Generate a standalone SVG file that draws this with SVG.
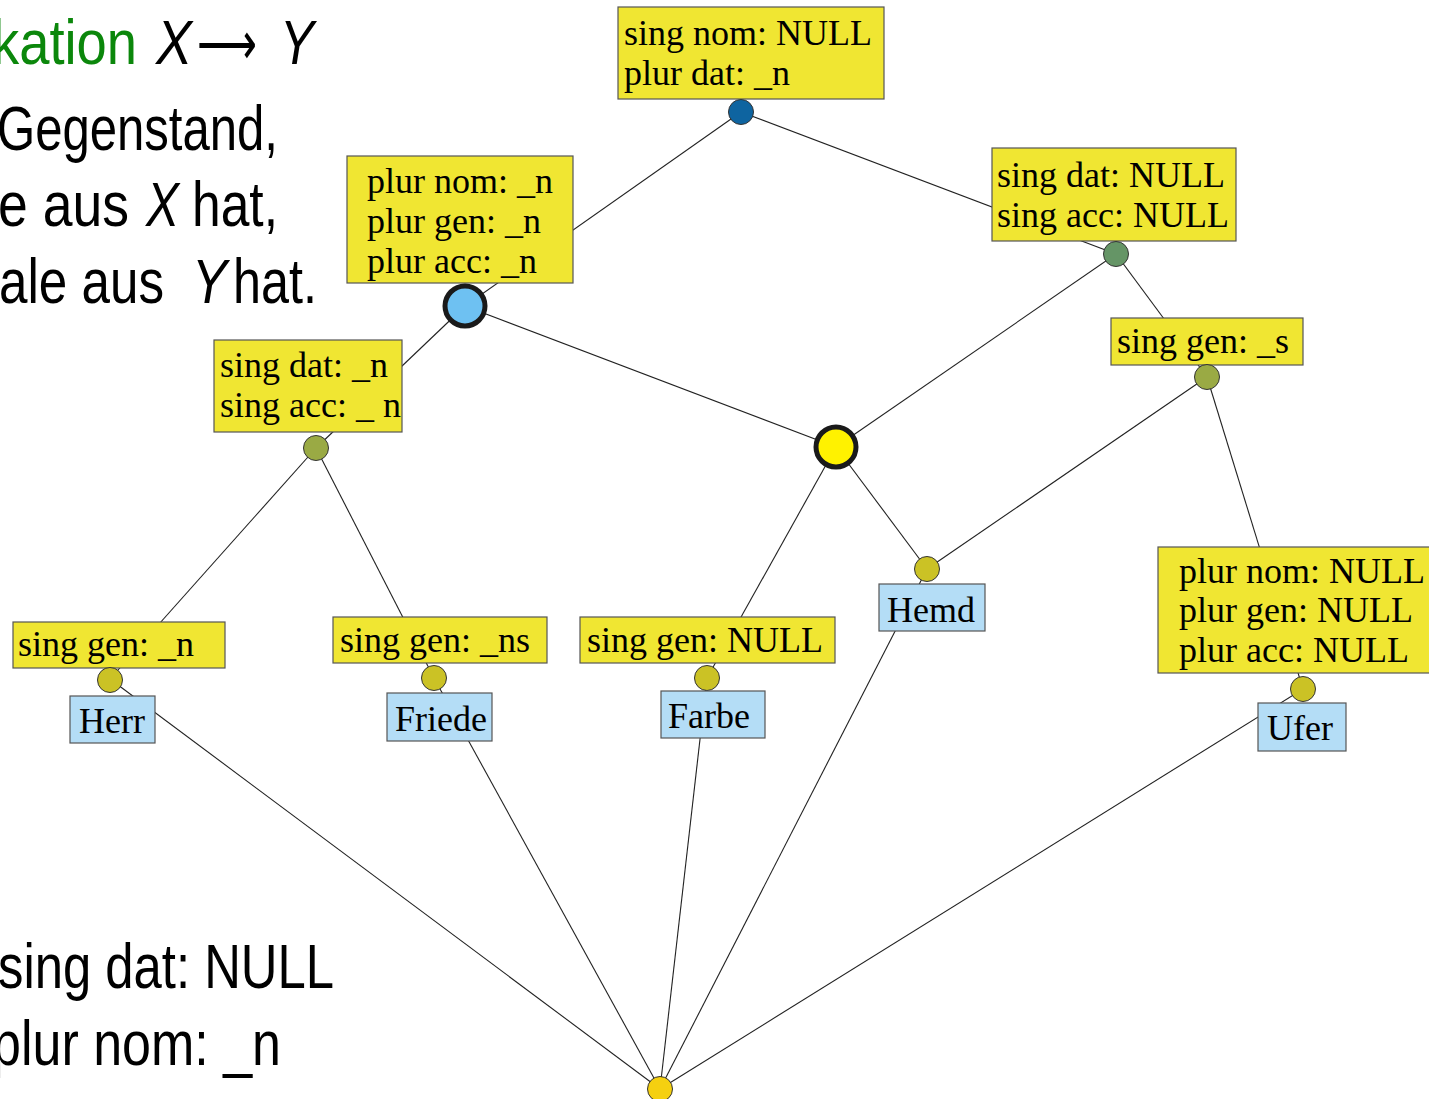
<svg xmlns="http://www.w3.org/2000/svg" width="1429" height="1099" viewBox="0 0 1429 1099">
<style>
.side{font-family:"Liberation Sans","Arial",sans-serif;font-size:63px;fill:#000}
.it{font-style:italic}
.lbl{font-family:"Liberation Serif","Times New Roman",serif;font-size:36px;fill:#000}
.yb{fill:#f0e632;stroke:#555;stroke-width:1.2}
.bb{fill:#b4ddf6;stroke:#555;stroke-width:1.2}
.c{stroke:#333;stroke-width:1}
.big{stroke:#1a1a1a;stroke-width:5}
.e{stroke:#222;stroke-width:1.1;fill:none}
</style>
<rect width="1429" height="1099" fill="#fff"/>
<g id="side-text">
<text class="side" x="-8" y="64" textLength="145" lengthAdjust="spacingAndGlyphs" fill="#0b870b" style="fill:#0b870b">kation</text>
<text class="side it" x="156" y="64" textLength="36" lengthAdjust="spacingAndGlyphs">X</text>
<text x="197" y="64" font-family="DejaVu Sans, sans-serif" font-size="60" textLength="60" lengthAdjust="spacingAndGlyphs">⟶</text>
<text class="side it" x="280" y="64" textLength="34" lengthAdjust="spacingAndGlyphs">Y</text>
<text class="side" x="-3" y="150" textLength="281" lengthAdjust="spacingAndGlyphs">Gegenstand,</text>
<text class="side" x="-2" y="226" textLength="131" lengthAdjust="spacingAndGlyphs">e aus</text>
<text class="side it" x="146" y="226" textLength="33" lengthAdjust="spacingAndGlyphs">X</text>
<text class="side" x="192" y="226" textLength="86" lengthAdjust="spacingAndGlyphs">hat,</text>
<text class="side" x="-1" y="303" textLength="165" lengthAdjust="spacingAndGlyphs">ale aus</text>
<text class="side it" x="192" y="303" textLength="35" lengthAdjust="spacingAndGlyphs">Y</text>
<text class="side" x="233" y="303" textLength="84" lengthAdjust="spacingAndGlyphs">hat.</text>
<text class="side" x="-2" y="988" textLength="336" lengthAdjust="spacingAndGlyphs">sing dat: NULL</text>
<text class="side" x="-8" y="1065" textLength="289" lengthAdjust="spacingAndGlyphs">plur nom: _n</text>
</g>
<g id="connectors">
<line class="e" x1="741" y1="112" x2="465" y2="306"/>
<line class="e" x1="741" y1="112" x2="1116" y2="254"/>
<line class="e" x1="465" y1="306" x2="316" y2="448"/>
<line class="e" x1="465" y1="306" x2="836" y2="447"/>
<line class="e" x1="1116" y1="254" x2="836" y2="447"/>
<line class="e" x1="1116" y1="254" x2="1207" y2="377"/>
<line class="e" x1="1207" y1="377" x2="927" y2="569"/>
<line class="e" x1="1207" y1="377" x2="1303" y2="689"/>
<line class="e" x1="836" y1="447" x2="927" y2="569"/>
<line class="e" x1="836" y1="447" x2="707" y2="678"/>
<line class="e" x1="316" y1="448" x2="110" y2="679"/>
<line class="e" x1="316" y1="448" x2="434" y2="678"/>
<line class="e" x1="110" y1="679" x2="660" y2="1089"/>
<line class="e" x1="434" y1="678" x2="660" y2="1089"/>
<line class="e" x1="707" y1="678" x2="660" y2="1089"/>
<line class="e" x1="927" y1="569" x2="660" y2="1089"/>
<line class="e" x1="1303" y1="689" x2="660" y2="1089"/>
</g>
<g id="n-top">
<rect class="yb" x="618" y="7" width="266" height="92"/>
<text class="lbl" x="624" y="45">sing nom: NULL</text>
<text class="lbl" x="624" y="85">plur dat: _n</text>
<circle class="c" cx="741" cy="112" r="12.5" fill="#0e64a0"/>
</g>
<g id="n-plur-n">
<rect class="yb" x="347" y="156" width="226" height="127"/>
<text class="lbl" x="367" y="193">plur nom: _n</text>
<text class="lbl" x="367" y="233">plur gen: _n</text>
<text class="lbl" x="367" y="273">plur acc: _n</text>
<circle class="big" cx="465" cy="306" r="20" fill="#6ec1f2"/>
</g>
<g id="n-sing-null">
<rect class="yb" x="992" y="148" width="244" height="93"/>
<text class="lbl" x="997" y="187">sing dat: NULL</text>
<text class="lbl" x="997" y="227">sing acc: NULL</text>
<circle class="c" cx="1116" cy="254" r="12.5" fill="#659566"/>
</g>
<g id="n-gen-s">
<rect class="yb" x="1111" y="318" width="192" height="47"/>
<text class="lbl" x="1117" y="353">sing gen: _s</text>
<circle class="c" cx="1207" cy="377" r="12.5" fill="#9aaa44"/>
</g>
<g id="n-sing-n">
<rect class="yb" x="214" y="340" width="188" height="92"/>
<text class="lbl" x="220" y="377">sing dat: _n</text>
<text class="lbl" x="220" y="417">sing acc: _ n</text>
<circle class="c" cx="316" cy="448" r="12.5" fill="#9aaa44"/>
</g>
<g id="n-center">
<circle class="big" cx="836" cy="447" r="20" fill="#fff200"/>
</g>
<g id="n-hemd">
<rect class="bb" x="879" y="584" width="106" height="47"/>
<text class="lbl" x="887" y="622">Hemd</text>
<circle class="c" cx="927" cy="569" r="12.5" fill="#cbc225"/>
</g>
<g id="n-plur-null">
<rect class="yb" x="1158" y="547" width="280" height="126"/>
<text class="lbl" x="1179" y="583">plur nom: NULL</text>
<text class="lbl" x="1179" y="622">plur gen: NULL</text>
<text class="lbl" x="1179" y="662">plur acc: NULL</text>
<circle class="c" cx="1303" cy="689" r="12.5" fill="#cbc225"/>
</g>
<g id="n-ufer">
<rect class="bb" x="1258" y="703" width="88" height="48"/>
<text class="lbl" x="1267" y="740">Ufer</text>
</g>
<g id="n-gen-n">
<rect class="yb" x="13" y="622" width="212" height="46"/>
<text class="lbl" x="18" y="656">sing gen: _n</text>
<circle class="c" cx="110" cy="680" r="12.5" fill="#cbc225"/>
</g>
<g id="n-herr">
<rect class="bb" x="70" y="696" width="85" height="47"/>
<text class="lbl" x="79" y="733">Herr</text>
</g>
<g id="n-gen-ns">
<rect class="yb" x="333" y="617" width="214" height="46"/>
<text class="lbl" x="340" y="652">sing gen: _ns</text>
<circle class="c" cx="434" cy="678" r="12.5" fill="#cbc225"/>
</g>
<g id="n-friede">
<rect class="bb" x="387" y="693" width="105" height="48"/>
<text class="lbl" x="395" y="731">Friede</text>
</g>
<g id="n-gen-null">
<rect class="yb" x="580" y="617" width="255" height="46"/>
<text class="lbl" x="587" y="652">sing gen: NULL</text>
<circle class="c" cx="707" cy="678" r="12.5" fill="#cbc225"/>
</g>
<g id="n-farbe">
<rect class="bb" x="661" y="691" width="104" height="47"/>
<text class="lbl" x="668" y="728">Farbe</text>
</g>
<g id="n-bottom">
<circle class="c" cx="660" cy="1089" r="12.5" fill="#f5d010"/>
</g>
</svg>
